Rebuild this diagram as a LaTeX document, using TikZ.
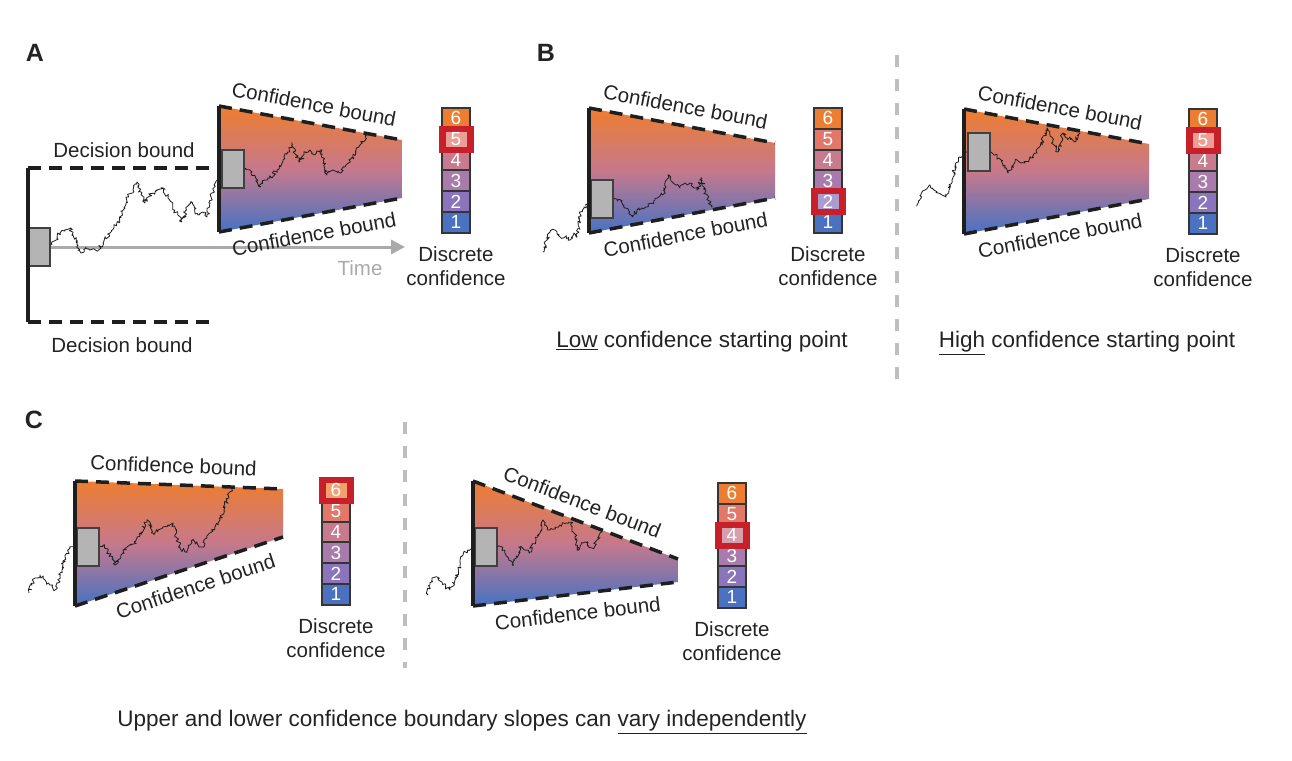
\documentclass[tikz,border=0pt]{standalone}
\usepackage{fontspec}
\setmainfont{Liberation Sans}
\usetikzlibrary{arrows.meta,decorations.pathmorphing,calc}
\definecolor{cone}{RGB}{74,114,192}
\definecolor{ctwo}{RGB}{138,116,188}
\definecolor{cthree}{RGB}{169,122,172}
\definecolor{cfour}{RGB}{200,122,142}
\definecolor{cfive}{RGB}{226,120,106}
\definecolor{csix}{RGB}{237,125,49}
\definecolor{gtop}{RGB}{238,125,46}
\definecolor{gmid}{RGB}{198,121,140}
\definecolor{gbot}{RGB}{70,114,196}
\definecolor{hlred}{RGB}{200,32,42}
\definecolor{edgec}{RGB}{30,30,30}
\definecolor{boxgray}{RGB}{180,180,180}
\definecolor{divgray}{RGB}{190,190,190}
\definecolor{timegray}{RGB}{170,170,170}
\definecolor{txt}{RGB}{35,35,35}
\newcommand{\cellcol}[1]{\ifcase#1\or cone\or ctwo\or cthree\or cfour\or cfive\or csix\fi}
\newcommand{\dscale}[4]{%
  \foreach \i in {6,5,4,3,2,1} {
    \node[cellbox, fill=\cellcol{\i}] (#1\i) at ({#2+14},{#3+(6-\i)*20.8+10.4}) {\i};
  }
  \node[fill=hlred, minimum width=35pt, minimum height=27pt, inner sep=0pt] (#1hl) at (#1#4) {};
  \node[fill=\cellcol{#4}!72!white, minimum width=21pt, minimum height=15pt, inner sep=0pt, text=white, font=\fontsize{19}{19}\selectfont] (#1hlin) at (#1#4) {#4};
  \node[lbl, align=center, anchor=north, inner sep=0pt] (#1lab) at ($(#11.south)+(0,13)$) {Discrete\\confidence};
}
\pgfmathsetseed{12}
\begin{document}
\begin{tikzpicture}[x=1pt,y=-1pt,
  lbl/.style={text=txt, font=\fontsize{20.5}{24}\selectfont},
  biglbl/.style={text=txt, font=\fontsize{22.5}{26}\selectfont},
  cellbox/.style={draw=edgec!90!white, line width=2pt, minimum width=28pt, minimum height=20.8pt, inner sep=0pt, text=white, font=\fontsize{19}{19}\selectfont},
  gbox/.style={draw=edgec!85!white, fill=boxgray, line width=2pt, minimum width=22pt, minimum height=38pt, inner sep=0pt},
  dbound/.style={draw=edgec, line width=3.5pt, dash pattern=on 13pt off 8pt},
  sbound/.style={draw=edgec, line width=4pt},
  walk/.style={draw=edgec, line width=0.8pt, line join=round, decorate, decoration={random steps, segment length=1.6pt, amplitude=2pt}},
  divider/.style={draw=divgray, line width=3.5pt, dash pattern=on 12pt off 12pt},
  panel/.style={font=\fontsize{25}{25}\selectfont\bfseries, text=txt},
  cb/.style={lbl, sloped, midway, inner sep=0pt}
]
\useasboundingbox (0,0) rectangle (1292,760);

% ---------------- Panel labels
\node[panel] (labA) at (35,53) {A};
\node[panel] (labB) at (546,53) {B};
\node[panel] (labC) at (34,420) {C};

% ---------------- Panel A
\coordinate (Atl) at (219,106); \coordinate (Atr) at (402,140);
\coordinate (Abr) at (402,198); \coordinate (Abl) at (219,232);
\shade[top color=gtop, bottom color=gbot, middle color=gmid] (Atl) -- (Atr) -- (Abr) -- (Abl) -- cycle;
\node[gbox] (A0) at (39,247) {};
\coordinate (Atime) at (405,247);
\draw[draw=timegray, line width=3pt, -{Triangle[length=14pt,width=14pt]}] (A0.east) -- (Atime);
\node[lbl, text=timegray] (timelab) at (360,268) {Time};
\coordinate (Adt) at (28,168); \coordinate (Adte) at (210,168);
\coordinate (Adb) at (28,322); \coordinate (Adbe) at (210,322);
\draw[sbound] (Adt) -- (Adb);
\draw[dbound] (Adt) -- (Adte);
\draw[dbound] (Adb) -- (Adbe);
\node[lbl] (decT) at (124,150) {Decision bound};
\node[lbl] (decB) at (122,345) {Decision bound};
\draw[walk] (52,245) -- (60,233) -- (65,231) -- (70,228) -- (73,235) -- (78,245) -- (81,253) -- (86,247) -- (90,250) -- (97,251) -- (103,243) -- (110,233) -- (118,222) -- (124,208) -- (128,197) -- (133,190) -- (137,182) -- (141,195) -- (145,203) -- (150,195) -- (155,192) -- (163,188) -- (168,198) -- (174,210) -- (182,222) -- (186,210) -- (190,202) -- (194,207) -- (198,215) -- (203,212) -- (207,217) -- (210,203) -- (214,185) -- (222,175);
\node[gbox] (A1) at (233,169) {};
\draw[walk] (A1.east) -- (252,172) -- (260,187) -- (265,180) -- (270,178) -- (277,170) -- (283,160) -- (288,152) -- (292,143) -- (296,155) -- (300,162) -- (305,152) -- (310,150) -- (315,155) -- (320,150) -- (324,162) -- (327,175) -- (333,170) -- (340,173) -- (346,165) -- (353,157) -- (360,145) -- (367,135);
\draw[dbound] (Atl) -- node[cb, above=10pt] {Confidence bound} (Atr);
\draw[dbound] (Abl) -- node[cb, below=10pt] {Confidence bound} (Abr);
\draw[sbound] (Atl) -- (Abl);
\dscale{SA}{442}{108}{5}

% ---------------- Panel B left
\coordinate (Btl) at (589,108); \coordinate (Btr) at (775,143);
\coordinate (Bbr) at (775,198); \coordinate (Bbl) at (589,233);
\shade[top color=gtop, bottom color=gbot, middle color=gmid] (Btl) -- (Btr) -- (Bbr) -- (Bbl) -- cycle;
\draw[walk] (543,252) -- (547,240) -- (550,232) -- (555,230) -- (558,235) -- (562,238) -- (566,236) -- (570,240) -- (574,233) -- (577,237) -- (580,212) -- (584,207) -- (592,203);
\node[gbox] (B1) at (602,198.5) {};
\draw[walk] (B1.east) -- (618,200) -- (624,205) -- (632,217) -- (637,210) -- (642,208) -- (647,207) -- (655,200) -- (660,196) -- (665,190) -- (669,175) -- (673,183) -- (680,188) -- (685,183) -- (690,183) -- (694,188) -- (697,190) -- (702,178) -- (705,193) -- (708,198) -- (711,207);
\draw[dbound] (Btl) -- node[cb, above=10pt] {Confidence bound} (Btr);
\draw[dbound] (Bbl) -- node[cb, below=10pt] {Confidence bound} (Bbr);
\draw[sbound] (Btl) -- (Bbl);
\dscale{SB}{814}{108}{2}
\node[biglbl] (lowlab) at (702,342) {\underline{Low} confidence starting point};

% ---------------- divider B
\coordinate (dvBt) at (897,55); \coordinate (dvBb) at (897,390);
\draw[divider] (dvBt) -- (dvBb);

% ---------------- Panel B right
\coordinate (Ctl) at (964,109); \coordinate (Ctr) at (1149,144);
\coordinate (Cbr) at (1149,199); \coordinate (Cbl) at (964,234);
\shade[top color=gtop, bottom color=gbot, middle color=gmid] (Ctl) -- (Ctr) -- (Cbr) -- (Cbl) -- cycle;
\draw[walk] (917,206) -- (921,195) -- (925,190) -- (930,185) -- (934,190) -- (938,193) -- (942,195) -- (946,197) -- (949,190) -- (952,180) -- (956,163) -- (960,157) -- (967,152);
\node[gbox] (C1) at (979,152) {};
\draw[walk] (C1.east) -- (995,155) -- (1001,160) -- (1008,173) -- (1013,165) -- (1017,160) -- (1021,163) -- (1025,163) -- (1031,158) -- (1037,153) -- (1042,142) -- (1047,128) -- (1050,136) -- (1053,142) -- (1058,152) -- (1063,133) -- (1067,138) -- (1070,137) -- (1075,142) -- (1080,133);
\draw[dbound] (Ctl) -- node[cb, above=10pt] {Confidence bound} (Ctr);
\draw[dbound] (Cbl) -- node[cb, below=10pt] {Confidence bound} (Cbr);
\draw[sbound] (Ctl) -- (Cbl);
\dscale{SC}{1189}{109}{5}
\node[biglbl] (highlab) at (1087,343) {\underline{High} confidence starting point};

% ---------------- Panel C left
\coordinate (Dtl) at (75,481); \coordinate (Dtr) at (283,489);
\coordinate (Dbr) at (283,537); \coordinate (Dbl) at (75,606);
\shade[top color=gtop, bottom color=gbot, middle color=gmid] (Dtl) -- (Dtr) -- (Dbr) -- (Dbl) -- cycle;
\draw[walk] (29,593) -- (32,585) -- (35,578) -- (40,575) -- (45,580) -- (50,585) -- (55,590) -- (58,583) -- (62,570) -- (65,557) -- (70,548) -- (78,545);
\node[gbox] (D1) at (88,546.5) {};
\draw[walk] (D1.east) -- (104,545) -- (110,556) -- (115,565) -- (121,555) -- (127,547) -- (135,543) -- (141,532) -- (147,520) -- (153,533) -- (158,530) -- (163,527) -- (168,525) -- (173,523) -- (177,538) -- (180,547) -- (185,552) -- (190,545) -- (193,540) -- (198,545) -- (202,547) -- (207,538) -- (210,533) -- (215,527) -- (220,520) -- (224,510) -- (227,500) -- (232,488);
\draw[dbound] (Dtl) -- node[cb, above=10pt, pos=0.47] {Confidence bound} (Dtr);
\draw[dbound] (Dbl) -- node[cb, below=10pt, pos=0.55] {Confidence bound} (Dbr);
\draw[sbound] (Dtl) -- (Dbl);
\dscale{SD}{322}{480}{6}

% ---------------- divider C
\coordinate (dvCt) at (405,422); \coordinate (dvCb) at (405,668);
\draw[divider] (dvCt) -- (dvCb);

% ---------------- Panel C right
\coordinate (Etl) at (473,481); \coordinate (Etr) at (678,559);
\coordinate (Ebr) at (678,582); \coordinate (Ebl) at (473,606);
\shade[top color=gtop, bottom color=gbot, middle color=gmid] (Etl) -- (Etr) -- (Ebr) -- (Ebl) -- cycle;
\draw[walk] (427,595) -- (430,585) -- (432,578) -- (437,577) -- (442,582) -- (447,588) -- (450,590) -- (455,580) -- (460,565) -- (463,555) -- (468,550) -- (476,547);
\node[gbox] (E1) at (485.5,546.5) {};
\draw[walk] (E1.east) -- (504,550) -- (512,565) -- (516,556) -- (520,548) -- (525,550) -- (530,552) -- (536,540) -- (542,527) -- (543,520) -- (547,527) -- (550,530) -- (555,527) -- (560,525) -- (566,523) -- (572,523) -- (575,537) -- (577,550) -- (581,545) -- (585,542) -- (589,546) -- (592,548) -- (597,540) -- (602,532);
\draw[dbound] (Etl) -- node[cb, above=10pt] {Confidence bound} (Etr);
\draw[dbound] (Ebl) -- node[cb, below=10pt] {Confidence bound} (Ebr);
\draw[sbound] (Etl) -- (Ebl);
\dscale{SE}{718}{483}{4}

% ---------------- caption
\node[biglbl] (cap) at (462,722) {Upper and lower confidence boundary slopes can \underline{vary independently}};
\end{tikzpicture}
\end{document}
